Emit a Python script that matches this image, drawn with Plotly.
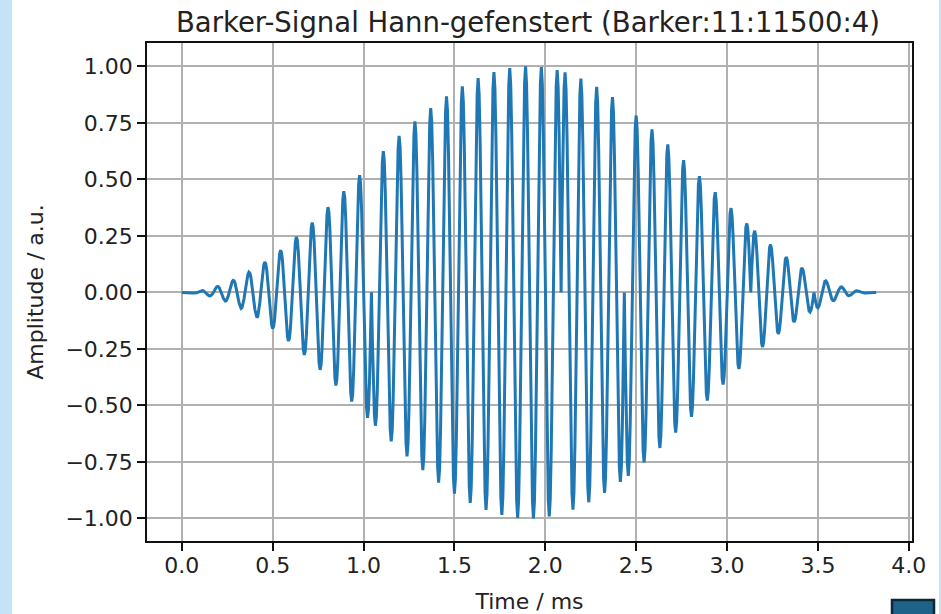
import numpy as np
import plotly.graph_objects as go

# Signal parameters read from the title: Barker:11:11500:4
barker_code = [1, 1, 1, -1, -1, -1, 1, -1, -1, 1, -1]   # Barker-11 chip phases
carrier_hz = 11500.0                                    # carrier frequency
periods_per_chip = 4                                    # carrier periods per chip
samples_per_period = 16                                 # sampling density (estimated)

x_ticks = [0.0, 0.5, 1.0, 1.5, 2.0, 2.5, 3.0, 3.5, 4.0]
y_ticks = [-1.0, -0.75, -0.5, -0.25, 0.0, 0.25, 0.5, 0.75, 1.0]

# Build the Hann-windowed phase-coded signal
sample_rate = carrier_hz * samples_per_period
n = len(barker_code) * periods_per_chip * samples_per_period
t = np.arange(n) / sample_rate
chip_idx = np.arange(n) // (periods_per_chip * samples_per_period)
phase = np.array(barker_code)[chip_idx]
signal = phase * np.sin(2 * np.pi * carrier_hz * t) * np.hanning(n)
t_ms = t * 1000.0

W, H = 941, 614
L, R, T, B = 147, 912, 43, 541
pw, ph = R - L, B - T


def px(x):
    return (x - L) / pw


def py(y):
    return (B - y) / ph


fig = go.Figure()
fig.add_trace(go.Scatter(x=t_ms, y=signal, mode="lines",
                         line=dict(color="#1f77b4", width=3.0),
                         hoverinfo="skip", showlegend=False))

font = "DejaVu Sans, Liberation Sans, sans-serif"
tc = "#222222"
axis_common = dict(
    automargin=False,
    showgrid=True, gridcolor="#b0b0b0", gridwidth=1.6,
    zeroline=False, showline=True, linecolor="#111111",
    linewidth=1.6, mirror=True, ticks="outside", ticklen=8,
    tickwidth=1.6, tickcolor="#111111",
    tickfont=dict(size=22, color=tc),
)
fig.update_layout(
    width=W, height=H,
    margin=dict(l=L, r=W - R, t=T, b=H - B, pad=0, autoexpand=False),
    paper_bgcolor="white", plot_bgcolor="white",
    font=dict(family=font, color=tc, size=22),
    title=dict(text="Barker-Signal Hann-gefenstert (Barker:11:11500:4)",
               x=528 / W, xanchor="center", xref="container",
               y=1 - 22 / H, yanchor="middle", yref="container",
               font=dict(size=27.5, color=tc, family=font)),
    xaxis=dict(range=[-0.1913, 4.0174], tickvals=x_ticks, tickformat=".1f",
               ticklabelstandoff=-4,
               title=dict(text="Time / ms", font=dict(size=22, color=tc),
                          standoff=17),
               **axis_common),
    yaxis=dict(range=[-1.1, 1.1035], tickvals=y_ticks, tickformat=".2f",
               title=dict(text="Amplitude / a.u.", font=dict(size=22, color=tc),
                          standoff=16),
               **axis_common),
)

# Notebook-screenshot framing: light blue strips and dark square
fig.add_shape(type="rect", xref="paper", yref="paper",
              x0=px(0), x1=px(12), y0=py(H + 5), y1=py(-5),
              fillcolor="#c4e3f4", line=dict(width=0), layer="below")
fig.add_shape(type="rect", xref="paper", yref="paper",
              x0=px(939), x1=px(W + 5), y0=py(H + 5), y1=py(-5),
              fillcolor="#c4e3f4", line=dict(width=0), layer="below")
fig.add_shape(type="rect", xref="paper", yref="paper",
              x0=px(892), x1=px(934), y0=py(H + 3), y1=py(600),
              fillcolor="#1d6288", line=dict(color="#0c2838", width=2.5))

fig.write_html("out.html")
